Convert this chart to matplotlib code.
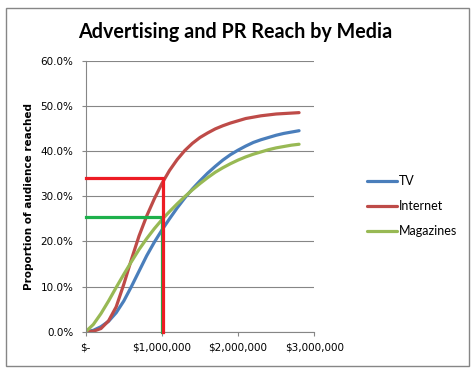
import matplotlib
matplotlib.use('Agg')
import matplotlib.pyplot as plt
from matplotlib.patches import Rectangle
from matplotlib.ticker import FuncFormatter

# Spend levels ($) and reach (fraction of audience)
spend = [0, 100000, 200000, 300000, 400000, 500000, 600000, 700000, 800000, 900000,
         1000000, 1100000, 1200000, 1300000, 1400000, 1500000, 1600000, 1700000, 1800000,
         1900000, 2000000, 2100000, 2200000, 2300000, 2400000, 2500000, 2600000, 2700000,
         2800000]
tv = [0.0, 0.003, 0.011, 0.023, 0.042, 0.068, 0.100, 0.134, 0.168, 0.198,
      0.225, 0.250, 0.274, 0.296, 0.316, 0.334, 0.351, 0.366, 0.380,
      0.392, 0.402, 0.411, 0.419, 0.425, 0.430, 0.435, 0.439, 0.442, 0.445]
internet = [0.0, 0.001, 0.007, 0.024, 0.055, 0.105, 0.160, 0.212, 0.256, 0.294,
            0.328, 0.357, 0.381, 0.401, 0.417, 0.430, 0.440, 0.449, 0.456,
            0.462, 0.467, 0.472, 0.475, 0.478, 0.480, 0.482, 0.483, 0.484, 0.485]
magazines = [0.0, 0.016, 0.040, 0.068, 0.098, 0.127, 0.155, 0.182, 0.206, 0.228,
             0.248, 0.266, 0.283, 0.299, 0.314, 0.328, 0.341, 0.353, 0.363,
             0.372, 0.380, 0.387, 0.393, 0.398, 0.403, 0.407, 0.410, 0.413, 0.415]

# $1M budget read-off markers
internet_budget, internet_reach = 1020000, 0.34
magazine_budget, magazine_reach = 1000000, 0.253

x_ticks = [0, 1000000, 2000000, 3000000]
y_ticks = [0.0, 0.1, 0.2, 0.3, 0.4, 0.5, 0.6]

fig = plt.figure(figsize=(4.74, 3.76), dpi=100)
fig.patches.append(Rectangle((5.5 / 474, 1 - 365.5 / 376), 463 / 474, 357.5 / 376,
                             transform=fig.transFigure, fill=False,
                             edgecolor='#868686', linewidth=1.0))

ax = fig.add_axes([85.7 / 474, 1 - 331.7 / 376, 228.6 / 474, 271 / 376])

ax.plot(spend, tv, color='#4A7EBB', lw=2.3, label='TV', solid_capstyle='round')
ax.plot(spend, internet, color='#BE4B48', lw=2.3, label='Internet', solid_capstyle='round')
ax.plot(spend, magazines, color='#98B954', lw=2.3, label='Magazines', solid_capstyle='round')

ax.plot([0, magazine_budget, magazine_budget], [magazine_reach, magazine_reach, 0],
        color='#1DB04B', lw=2.3, clip_on=False, zorder=4)
ax.plot([0, internet_budget, internet_budget], [internet_reach, internet_reach, 0],
        color='#ED1C24', lw=2.3, clip_on=False, zorder=5)

ax.set_xlim(0, 3000000)
ax.set_ylim(0, 0.6)
ax.set_xticks(x_ticks)
ax.set_yticks(y_ticks)
ax.xaxis.set_major_formatter(FuncFormatter(lambda v, p: '$-' if v == 0 else '${:,.0f}'.format(v)))
ax.yaxis.set_major_formatter(FuncFormatter(lambda v, p: '{:.1f}%'.format(v * 100)))
ax.tick_params(axis='both', labelsize=7.5, colors='#868686', labelcolor='black',
               length=3, width=0.8, direction='out')
ax.tick_params(axis='y', pad=6)
ax.tick_params(axis='x', pad=5)
ax.grid(axis='y', color='#868686', linewidth=0.8)
ax.set_axisbelow(True)
for s in ['top', 'right']:
    ax.spines[s].set_visible(False)
for s in ['left', 'bottom']:
    ax.spines[s].set_color('#868686')
    ax.spines[s].set_linewidth(0.8)

fig.text(29 / 474, 1 - 196 / 376, 'Proportion of audience reached', rotation=90,
         ha='center', va='center', fontsize=7.5, fontweight='bold')
fig.text(235 / 474, 1 - 32 / 376, 'Advertising and PR Reach by Media',
         ha='center', va='center', fontsize=14.2, fontweight='bold', family='Lato')

fig.legend(loc='center left', bbox_to_anchor=(367 / 474, 1 - 206 / 376), frameon=False,
           handlelength=2.4, handletextpad=0.15, labelspacing=1.05,
           borderpad=0, borderaxespad=0, prop={'family': 'Lato', 'size': 9})

fig.savefig('out.png', dpi=100)
